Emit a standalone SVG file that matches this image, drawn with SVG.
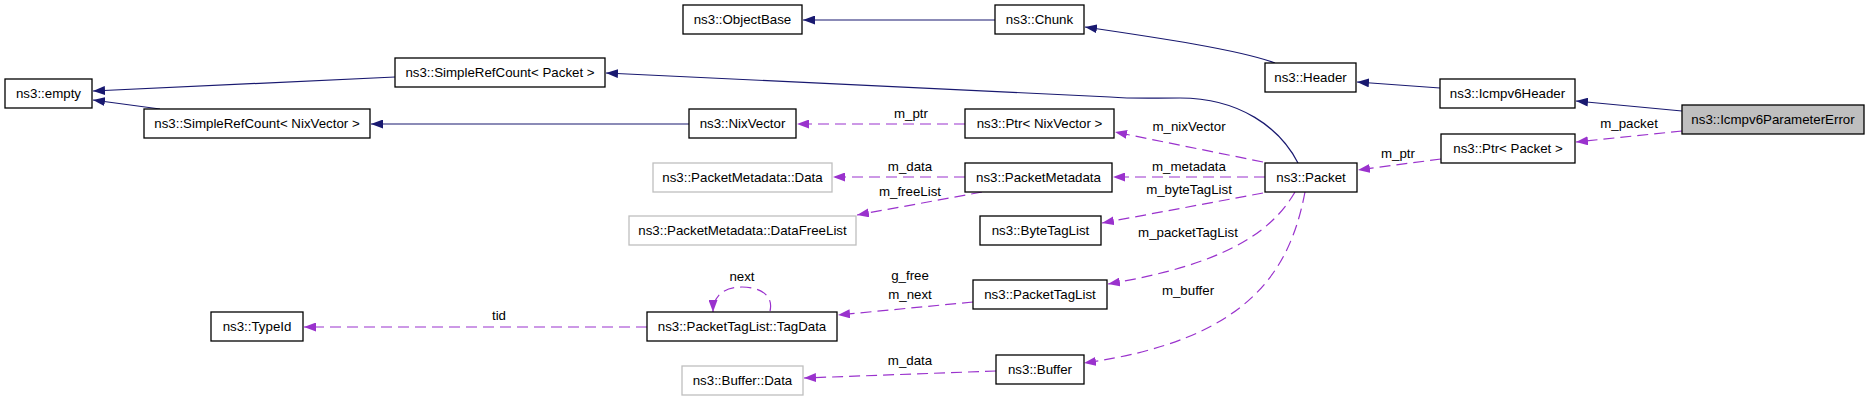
<svg xmlns="http://www.w3.org/2000/svg" width="1869" height="400" viewBox="0 0 1869 400">
<style>
.n rect{fill:#fff;stroke:#000;stroke-width:1.3}
.n.g rect{stroke:#bfbfbf}
.n.h rect{fill:#bfbfbf}
.n text,.lbl{font-family:"Liberation Sans",Arial,sans-serif;font-size:13.3px;fill:#000;text-anchor:middle}
.inh{fill:none;stroke:#191970;stroke-width:1.2;marker-end:url(#ab)}
.col{fill:none;stroke:#9a32cd;stroke-width:1.2;stroke-dasharray:11,6;marker-end:url(#ap)}
</style>
<defs>
<marker id="ab" viewBox="0 0 12 9" refX="12" refY="4.5" markerWidth="12" markerHeight="9" markerUnits="userSpaceOnUse" orient="auto"><path d="M0,0 L12,4.5 L0,9 z" fill="#191970"/></marker>
<marker id="ap" viewBox="0 0 12 9" refX="12" refY="4.5" markerWidth="12" markerHeight="9" markerUnits="userSpaceOnUse" orient="auto"><path d="M0,0 L12,4.5 L0,9 z" fill="#9a32cd"/></marker>
</defs>
<rect width="1869" height="400" fill="#fff"/>
<g id="connectors">
<path class="inh" d="M395,77 L93,91"/>
<path class="inh" d="M160,109 L93,100"/>
<path class="inh" d="M689,124 L371,124"/>
<path class="inh" d="M1298,163 C1280,128 1240,98 1180,98 C1150,98 1135,99 1110,97 L606,73"/>
<path class="inh" d="M995,20 L803,20"/>
<path class="inh" d="M1275,63 C1240,50 1160,38 1085,27"/>
<path class="inh" d="M1440,88 L1357,82"/>
<path class="inh" d="M1682,111 L1576,101"/>
<path class="col" d="M1682,131 L1576,142"/>
<path class="col" d="M1441,159 L1358,170"/>
<path class="col" d="M965,124 L797,124"/>
<path class="col" d="M1263,162 L1115,132"/>
<path class="col" d="M1265,177 L1113,177"/>
<path class="col" d="M1263,193 L1102,223"/>
<path class="col" d="M1295,192 C1270,235 1220,265 1108,284"/>
<path class="col" d="M1305,192 C1290,270 1250,340 1084,363"/>
<path class="col" d="M965,177 L833,177"/>
<path class="col" d="M982,192 L857,215"/>
<path class="col" d="M973,302 L838,315"/>
<path class="col" d="M647,327 L304,327"/>
<path class="col" d="M770,311 C774,294 758,287 742,287 C726,287 713,294 713,312"/>
<path class="col" d="M996,371 L804,378"/>
<text class="lbl" x="1629" y="128">m_packet</text>
<text class="lbl" x="1398" y="158">m_ptr</text>
<text class="lbl" x="911" y="118">m_ptr</text>
<text class="lbl" x="1189" y="131">m_nixVector</text>
<text class="lbl" x="1189" y="171">m_metadata</text>
<text class="lbl" x="1189" y="194">m_byteTagList</text>
<text class="lbl" x="1188" y="237">m_packetTagList</text>
<text class="lbl" x="1188" y="295">m_buffer</text>
<text class="lbl" x="910" y="171">m_data</text>
<text class="lbl" x="910" y="196">m_freeList</text>
<text class="lbl" x="910" y="280">g_free</text>
<text class="lbl" x="910" y="299">m_next</text>
<text class="lbl" x="499" y="320">tid</text>
<text class="lbl" x="742" y="281">next</text>
<text class="lbl" x="910" y="365">m_data</text>
</g>
<g id="n1" class="n"><rect x="683" y="5" width="119" height="29"/><text x="742.5" y="24">ns3::ObjectBase</text></g>
<g id="n2" class="n"><rect x="995" y="5" width="89" height="29"/><text x="1039.5" y="24">ns3::Chunk</text></g>
<g id="n3" class="n"><rect x="395" y="58" width="210" height="29"/><text x="500" y="77">ns3::SimpleRefCount&lt; Packet &gt;</text></g>
<g id="n4" class="n"><rect x="1265" y="63" width="91" height="29"/><text x="1310.5" y="82">ns3::Header</text></g>
<g id="n5" class="n"><rect x="5" y="79" width="87" height="29"/><text x="48.5" y="98">ns3::empty</text></g>
<g id="n6" class="n"><rect x="1440" y="79" width="135" height="29"/><text x="1507.5" y="98">ns3::Icmpv6Header</text></g>
<g id="n7" class="n h"><rect x="1682" y="105" width="182" height="29"/><text x="1773" y="124">ns3::Icmpv6ParameterError</text></g>
<g id="n8" class="n"><rect x="144" y="109" width="226" height="29"/><text x="257" y="128">ns3::SimpleRefCount&lt; NixVector &gt;</text></g>
<g id="n9" class="n"><rect x="689" y="109" width="107" height="29"/><text x="742.5" y="128">ns3::NixVector</text></g>
<g id="n10" class="n"><rect x="965" y="109" width="149" height="29"/><text x="1039.5" y="128">ns3::Ptr&lt; NixVector &gt;</text></g>
<g id="n11" class="n"><rect x="1441" y="134" width="134" height="29"/><text x="1508" y="153">ns3::Ptr&lt; Packet &gt;</text></g>
<g id="n12" class="n g"><rect x="653" y="163" width="179" height="29"/><text x="742.5" y="182">ns3::PacketMetadata::Data</text></g>
<g id="n13" class="n"><rect x="965" y="163" width="147" height="29"/><text x="1038.5" y="182">ns3::PacketMetadata</text></g>
<g id="n14" class="n"><rect x="1265" y="163" width="92" height="29"/><text x="1311" y="182">ns3::Packet</text></g>
<g id="n15" class="n g"><rect x="629" y="216" width="227" height="29"/><text x="742.5" y="235">ns3::PacketMetadata::DataFreeList</text></g>
<g id="n16" class="n"><rect x="980" y="216" width="121" height="29"/><text x="1040.5" y="235">ns3::ByteTagList</text></g>
<g id="n17" class="n"><rect x="973" y="280" width="134" height="29"/><text x="1040" y="299">ns3::PacketTagList</text></g>
<g id="n18" class="n"><rect x="211" y="312" width="92" height="29"/><text x="257" y="331">ns3::TypeId</text></g>
<g id="n19" class="n"><rect x="647" y="312" width="190" height="29"/><text x="742" y="331">ns3::PacketTagList::TagData</text></g>
<g id="n20" class="n g"><rect x="682" y="366" width="121" height="29"/><text x="742.5" y="385">ns3::Buffer::Data</text></g>
<g id="n21" class="n"><rect x="996" y="355" width="88" height="29"/><text x="1040" y="374">ns3::Buffer</text></g>
</svg>
